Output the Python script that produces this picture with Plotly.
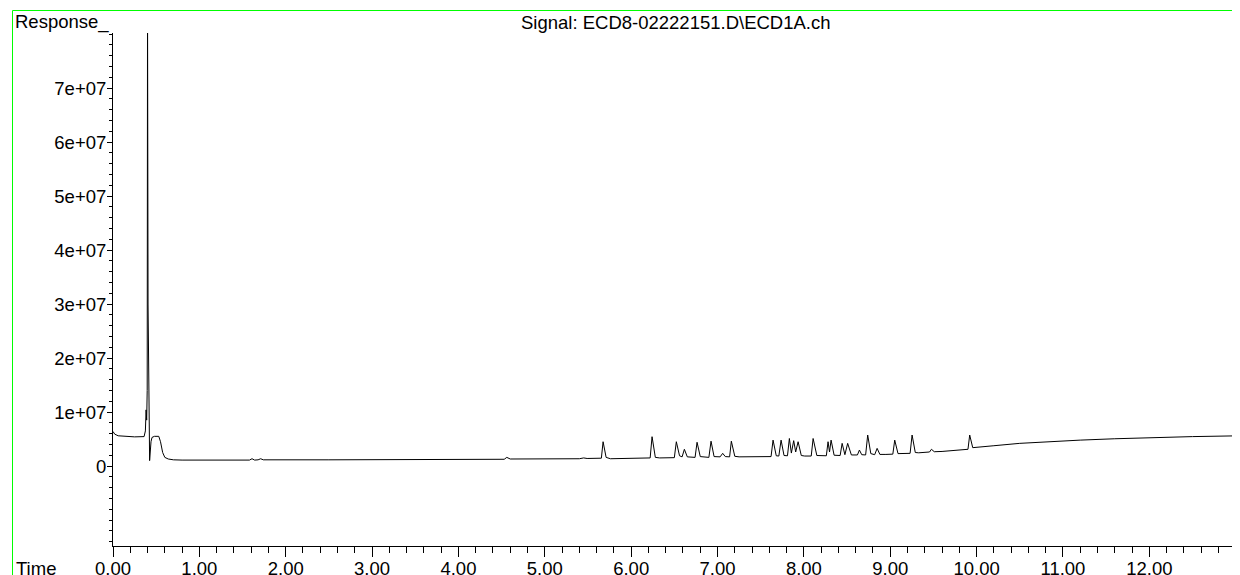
import plotly.graph_objects as go

# ---- data ----
time_min = [
    0.00, 0.02, 0.06, 0.15, 0.25, 0.36, 0.375, 0.383, 0.390, 0.396, 0.400, 0.406,
    0.418, 0.424, 0.440, 0.452, 0.48, 0.53, 0.55, 0.575, 0.60, 0.64, 0.70, 0.80,
    1.58, 1.61, 1.64, 1.68, 1.71, 1.74, 2.50, 3.50, 4.53, 4.56, 4.60, 5.40, 5.45,
    5.49, 5.655, 5.675, 5.71, 5.76, 6.00, 6.22, 6.242, 6.28, 6.33, 6.50, 6.523,
    6.56, 6.59, 6.616, 6.65, 6.74, 6.763, 6.80, 6.90, 6.925, 6.96, 7.03, 7.06,
    7.09, 7.14, 7.16, 7.20, 7.25, 7.62, 7.643, 7.68, 7.71, 7.736, 7.77, 7.81,
    7.832, 7.855, 7.882, 7.905, 7.933, 7.97, 8.01, 8.085, 8.107, 8.15, 8.26, 8.28,
    8.297, 8.315, 8.35, 8.42, 8.443, 8.475, 8.507, 8.55, 8.62, 8.643, 8.67, 8.715,
    8.739, 8.775, 8.82, 8.848, 8.88, 8.95, 9.03, 9.052, 9.09, 9.23, 9.253, 9.29,
    9.33, 9.455, 9.477, 9.51, 9.60, 9.90, 9.92, 9.955, 10.0, 10.2, 10.5, 10.8,
    11.2, 11.6, 12.0, 12.5, 13.05,
]
response_millions = [
    6.4, 5.9, 5.6, 5.45, 5.4, 5.45, 6.5, 10.4, 8.5, 14.0, 86.0, 30.0,
    3.0, 1.0, 4.5, 5.3, 5.5, 5.5, 4.5, 2.5, 1.6, 1.3, 1.15, 1.1,
    1.1, 1.35, 1.1, 1.15, 1.35, 1.15, 1.15, 1.2, 1.25, 1.6, 1.3, 1.35, 1.5,
    1.4, 1.45, 4.5, 1.6, 1.35, 1.4, 1.5, 5.43, 1.6, 1.5, 1.55, 4.5,
    1.9, 1.7, 3.1, 1.7, 1.6, 4.4, 1.75, 1.6, 4.6, 1.75, 1.7, 2.35,
    1.75, 1.7, 4.6, 1.8, 1.7, 1.75, 4.8, 1.9, 1.85, 4.8, 1.95, 1.9,
    5.1, 2.4, 4.7, 2.6, 4.5, 1.95, 1.85, 1.85, 5.1, 1.95, 1.9, 4.5,
    2.6, 4.8, 2.0, 1.95, 4.2, 2.1, 4.2, 2.05, 2.05, 2.96, 2.1, 2.05,
    5.74, 2.3, 2.1, 3.27, 2.15, 2.15, 2.2, 4.8, 2.3, 2.35, 5.74, 2.5,
    2.45, 2.6, 3.1, 2.65, 2.7, 3.1, 5.74, 3.4, 3.45, 3.76, 4.2, 4.5,
    4.8, 5.05, 5.25, 5.45, 5.6,
]
response = [v * 1e6 for v in response_millions]

x_tick_values = [0, 1, 2, 3, 4, 5, 6, 7, 8, 9, 10, 11, 12]
x_tick_labels = ["0.00", "1.00", "2.00", "3.00", "4.00", "5.00", "6.00",
                 "7.00", "8.00", "9.00", "10.00", "11.00", "12.00"]
y_tick_values = [0, 1e7, 2e7, 3e7, 4e7, 5e7, 6e7, 7e7]
y_tick_labels = ["0", "1e+07", "2e+07", "3e+07", "4e+07", "5e+07", "6e+07", "7e+07"]

title_text = "Signal: ECD8-02222151.D\\ECD1A.ch"

# ---- layout geometry (page body has an 8px offset) ----
OFF = 8
W, H = 1240 - OFF, 575 - OFF
ML, MR, MT, MB = 113 - OFF, 0, 33 - OFF, 29
PW, PH = W - ML - MR, H - MT - MB

def px_x(p):  # window pixel -> paper x
    return (p - OFF - ML) / PW

def px_y(p):  # window pixel -> paper y
    return (H - MB - (p - OFF)) / PH

FONT = "Liberation Sans, Arial, sans-serif"
FS = 18.5

fig = go.Figure(
    go.Scatter(
        x=time_min, y=response, mode="lines",
        line=dict(color="black", width=1), hoverinfo="skip",
    )
)

fig.update_layout(
    width=W, height=H,
    margin=dict(l=ML, r=MR, t=MT, b=MB, pad=0),
    paper_bgcolor="white", plot_bgcolor="white",
    showlegend=False,
    font=dict(family=FONT, size=FS, color="black"),
    xaxis=dict(
        range=[0, 13.05], showgrid=False, zeroline=False, automargin=False,
        showline=True, linecolor="black", linewidth=1,
        ticks="outside", ticklen=10, tickwidth=1, tickcolor="black",
        tickmode="array", tickvals=x_tick_values, ticktext=x_tick_labels,
        tickfont=dict(family=FONT, size=FS, color="black"),
        ticklabelstandoff=-4,
        minor=dict(ticks="outside", ticklen=6, tickwidth=1, tickcolor="black",
                   tickmode="linear", tick0=0, dtick=0.2, showgrid=False),
    ),
    yaxis=dict(
        range=[-14.81e6, 80.19e6], showgrid=False, zeroline=False, automargin=False,
        showline=True, linecolor="black", linewidth=1,
        ticks="outside", ticklen=5, tickwidth=1, tickcolor="black",
        tickmode="array", tickvals=y_tick_values, ticktext=y_tick_labels,
        tickfont=dict(family=FONT, size=FS, color="black"),
        ticklabelstandoff=-3,
        minor=dict(ticks="outside", ticklen=3, tickwidth=1, tickcolor="black",
                   tickmode="linear", tick0=0, dtick=2e6, showgrid=False),
    ),
)

# green frame lines (top and left)
green = "#00FF00"
fig.add_shape(type="line", xref="paper", yref="paper",
              x0=px_x(12.5), x1=px_x(1245), y0=px_y(10.5), y1=px_y(10.5),
              line=dict(color=green, width=1))
fig.add_shape(type="line", xref="paper", yref="paper",
              x0=px_x(12.5), x1=px_x(12.5), y0=px_y(10.5), y1=px_y(580),
              line=dict(color=green, width=1))

fig.add_annotation(text="Response_", xref="paper", yref="paper",
                   x=px_x(13), y=px_y(22.4), xanchor="left", yanchor="middle",
                   showarrow=False, font=dict(family=FONT, size=FS, color="black"))
fig.add_annotation(text=title_text, xref="paper", yref="paper",
                   x=px_x(675.8), y=px_y(22.4), xanchor="center", yanchor="middle",
                   showarrow=False, font=dict(family=FONT, size=FS, color="black"))
fig.add_annotation(text="Time", xref="paper", yref="paper",
                   x=px_x(14), y=px_y(568.3), xanchor="left", yanchor="middle",
                   showarrow=False, font=dict(family=FONT, size=FS, color="black"))

fig.write_html("out.html")
